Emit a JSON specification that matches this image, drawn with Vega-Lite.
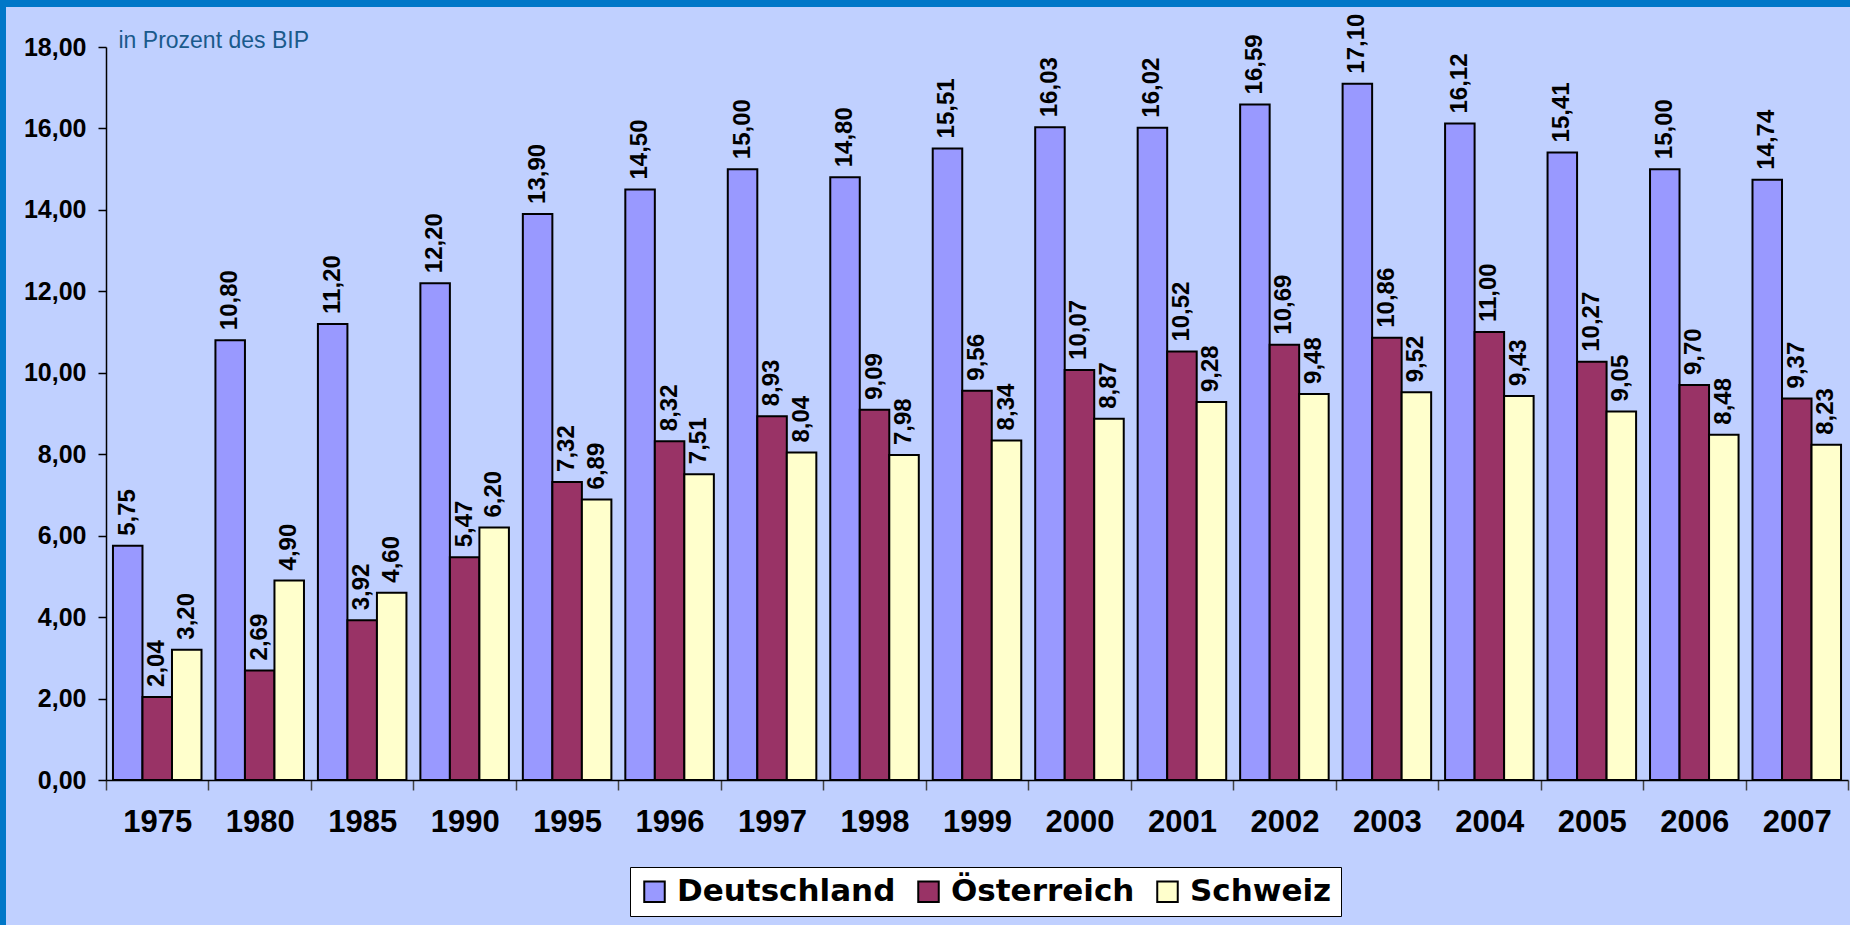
{
  "$schema": "https://vega.github.io/schema/vega-lite/v6.json",
  "background": "#C0D0FF",
  "padding": 0,
  "config": {
    "view": {"stroke": null},
    "locale": {"number": {"decimal": ",", "thousands": ".", "grouping": [3], "currency": ["", " €"]}}
  },
  "datasets": {
    "bip": [
      {"jahr": "1975", "land": "Deutschland", "wert": 5.75},
      {"jahr": "1975", "land": "Österreich", "wert": 2.04},
      {"jahr": "1975", "land": "Schweiz", "wert": 3.20},
      {"jahr": "1980", "land": "Deutschland", "wert": 10.80},
      {"jahr": "1980", "land": "Österreich", "wert": 2.69},
      {"jahr": "1980", "land": "Schweiz", "wert": 4.90},
      {"jahr": "1985", "land": "Deutschland", "wert": 11.20},
      {"jahr": "1985", "land": "Österreich", "wert": 3.92},
      {"jahr": "1985", "land": "Schweiz", "wert": 4.60},
      {"jahr": "1990", "land": "Deutschland", "wert": 12.20},
      {"jahr": "1990", "land": "Österreich", "wert": 5.47},
      {"jahr": "1990", "land": "Schweiz", "wert": 6.20},
      {"jahr": "1995", "land": "Deutschland", "wert": 13.90},
      {"jahr": "1995", "land": "Österreich", "wert": 7.32},
      {"jahr": "1995", "land": "Schweiz", "wert": 6.89},
      {"jahr": "1996", "land": "Deutschland", "wert": 14.50},
      {"jahr": "1996", "land": "Österreich", "wert": 8.32},
      {"jahr": "1996", "land": "Schweiz", "wert": 7.51},
      {"jahr": "1997", "land": "Deutschland", "wert": 15.00},
      {"jahr": "1997", "land": "Österreich", "wert": 8.93},
      {"jahr": "1997", "land": "Schweiz", "wert": 8.04},
      {"jahr": "1998", "land": "Deutschland", "wert": 14.80},
      {"jahr": "1998", "land": "Österreich", "wert": 9.09},
      {"jahr": "1998", "land": "Schweiz", "wert": 7.98},
      {"jahr": "1999", "land": "Deutschland", "wert": 15.51},
      {"jahr": "1999", "land": "Österreich", "wert": 9.56},
      {"jahr": "1999", "land": "Schweiz", "wert": 8.34},
      {"jahr": "2000", "land": "Deutschland", "wert": 16.03},
      {"jahr": "2000", "land": "Österreich", "wert": 10.07},
      {"jahr": "2000", "land": "Schweiz", "wert": 8.87},
      {"jahr": "2001", "land": "Deutschland", "wert": 16.02},
      {"jahr": "2001", "land": "Österreich", "wert": 10.52},
      {"jahr": "2001", "land": "Schweiz", "wert": 9.28},
      {"jahr": "2002", "land": "Deutschland", "wert": 16.59},
      {"jahr": "2002", "land": "Österreich", "wert": 10.69},
      {"jahr": "2002", "land": "Schweiz", "wert": 9.48},
      {"jahr": "2003", "land": "Deutschland", "wert": 17.10},
      {"jahr": "2003", "land": "Österreich", "wert": 10.86},
      {"jahr": "2003", "land": "Schweiz", "wert": 9.52},
      {"jahr": "2004", "land": "Deutschland", "wert": 16.12},
      {"jahr": "2004", "land": "Österreich", "wert": 11.00},
      {"jahr": "2004", "land": "Schweiz", "wert": 9.43},
      {"jahr": "2005", "land": "Deutschland", "wert": 15.41},
      {"jahr": "2005", "land": "Österreich", "wert": 10.27},
      {"jahr": "2005", "land": "Schweiz", "wert": 9.05},
      {"jahr": "2006", "land": "Deutschland", "wert": 15.00},
      {"jahr": "2006", "land": "Österreich", "wert": 9.70},
      {"jahr": "2006", "land": "Schweiz", "wert": 8.48},
      {"jahr": "2007", "land": "Deutschland", "wert": 14.74},
      {"jahr": "2007", "land": "Österreich", "wert": 9.37},
      {"jahr": "2007", "land": "Schweiz", "wert": 8.23}
    ]
  },
  "bounds": "flush",
  "align": "each",
  "spacing": 0,
  "vconcat": [
    {
      "width": 1850,
      "height": 7,
      "view": {"fill": "#0077C8", "stroke": null},
      "data": {"values": [{}]},
      "mark": {"type": "point", "opacity": 0},
      "encoding": {}
    },
    {
      "bounds": "flush",
      "align": "each",
      "spacing": 100,
      "hconcat": [
        {
          "width": 6,
          "height": 918,
          "view": {"fill": "#0077C8", "stroke": null},
          "data": {"values": [{}]},
          "mark": {"type": "point", "opacity": 0},
          "encoding": {}
        },
        {
          "bounds": "flush",
          "align": "each",
          "spacing": 39,
          "vconcat": [
            {
              "width": 1,
              "height": 1,
              "data": {"values": [{}]},
              "mark": {"type": "point", "opacity": 0},
              "encoding": {}
            },
            {
              "width": 1742,
              "height": 733,
              "data": {"name": "bip"},
              "encoding": {
                "x": {
                  "field": "jahr",
                  "type": "nominal",
                  "sort": null,
                  "scale": {"paddingInner": 0, "paddingOuter": 0},
                  "axis": {
                    "title": null,
                    "labelAngle": 0,
                    "labelFont": "Liberation Sans",
                    "labelFontSize": 31,
                    "labelFontWeight": "bold",
                    "labelColor": "black",
                    "labelPadding": 17,
                    "tickBand": "extent",
                    "tickSize": 10,
                    "tickColor": "#444444",
                    "tickWidth": 1.5,
                    "domainColor": "black",
                    "domainWidth": 1.5,
                    "grid": false
                  }
                },
                "xOffset": {
                  "field": "land",
                  "type": "nominal",
                  "sort": ["Deutschland", "Österreich", "Schweiz"],
                  "scale": {"paddingInner": 0, "paddingOuter": 0.236}
                },
                "y": {
                  "field": "wert",
                  "type": "quantitative",
                  "scale": {"domain": [0, 18], "nice": false},
                  "axis": {
                    "values": [0, 2, 4, 6, 8, 10, 12, 14, 16, 18],
                    "format": ".2f",
                    "title": "in Prozent des BIP",
                    "titleAngle": 0,
                    "titleX": 12,
                    "titleY": 0,
                    "titleAlign": "left",
                    "titleBaseline": "alphabetic",
                    "titleFont": "Liberation Sans",
                    "titleFontSize": 23,
                    "titleFontWeight": "normal",
                    "titleColor": "#1A5A8C",
                    "labelFont": "Liberation Sans",
                    "labelFontSize": 25,
                    "labelFontWeight": "bold",
                    "labelColor": "black",
                    "labelPadding": 12,
                    "tickSize": 8,
                    "tickColor": "black",
                    "tickWidth": 1.5,
                    "domainColor": "black",
                    "domainWidth": 1.5,
                    "grid": false
                  }
                }
              },
              "layer": [
                {
                  "mark": {"type": "bar", "stroke": "black", "strokeWidth": 2},
                  "encoding": {
                    "color": {
                      "field": "land",
                      "type": "nominal",
                      "sort": ["Deutschland", "Österreich", "Schweiz"],
                      "scale": {
                        "domain": ["Deutschland", "Österreich", "Schweiz"],
                        "range": ["#9999FF", "#993366", "#FFFFCC"]
                      },
                      "legend": {
                        "orient": "none",
                        "legendX": 630,
                        "legendY": 867,
                        "direction": "horizontal",
                        "title": null,
                        "fillColor": "white",
                        "strokeColor": "black",
                        "padding": 9,
                        "symbolType": "square",
                        "symbolSize": 420,
                        "symbolStrokeColor": "black",
                        "symbolStrokeWidth": 2,
                        "symbolOpacity": 1,
                        "labelFont": "DejaVu Sans",
                        "labelFontSize": 31,
                        "labelFontWeight": "bold",
                        "labelColor": "black",
                        "labelLimit": 0,
                        "labelOffset": 7,
                        "columnPadding": 17
                      }
                    }
                  }
                },
                {
                  "mark": {
                    "type": "text",
                    "angle": 270,
                    "align": "left",
                    "baseline": "middle",
                    "dx": 10,
                    "font": "Liberation Sans",
                    "fontSize": 24,
                    "fontWeight": "bold",
                    "color": "black"
                  },
                  "encoding": {
                    "text": {"field": "wert", "type": "quantitative", "format": ".2f"}
                  }
                }
              ]
            }
          ]
        }
      ]
    }
  ]
}
